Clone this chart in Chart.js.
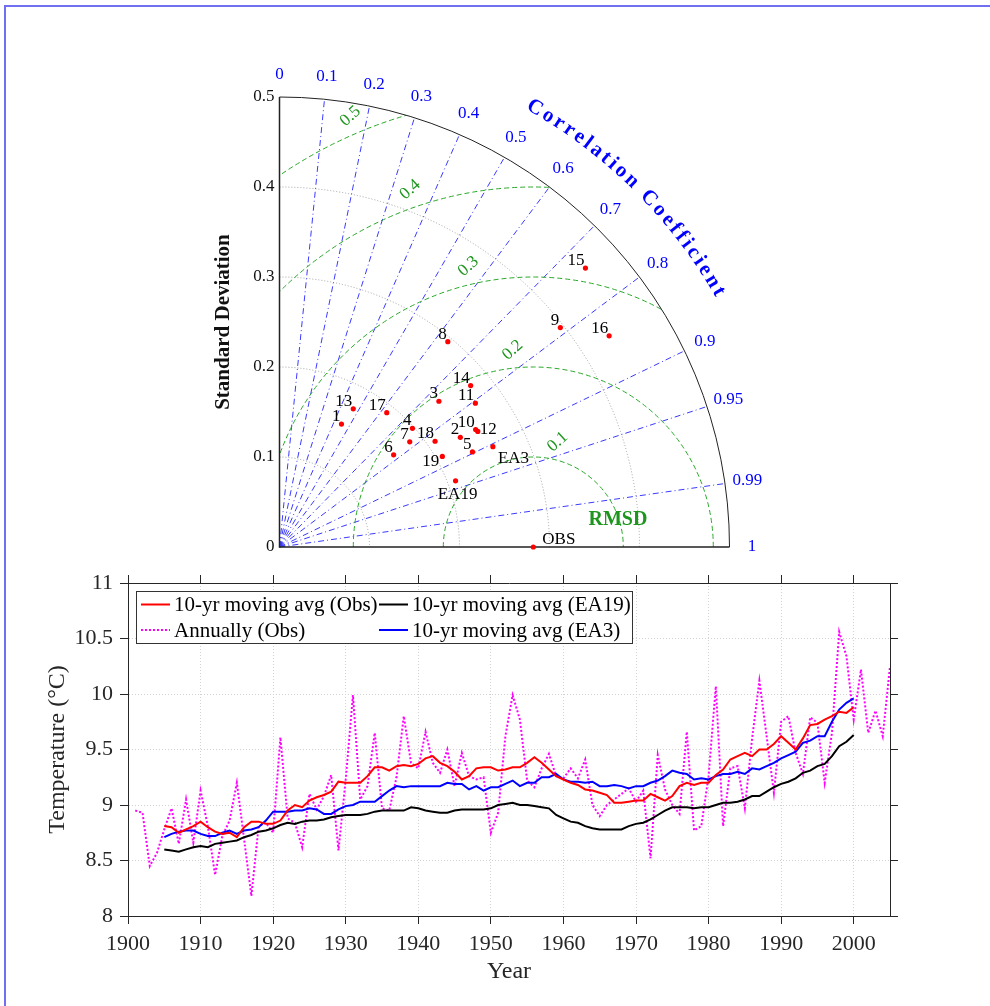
<!DOCTYPE html>
<html>
<head>
<meta charset="utf-8">
<script src="https://cdn.jsdelivr.net/npm/chart.js@4.4.0/dist/chart.umd.min.js"></script>
<style>
html, body { margin: 0; padding: 0; background: #fff; }
#page { position: relative; width: 990px; height: 1006px; overflow: hidden; }
#frame { position: absolute; left: 4px; top: 5px; width: 1000px; height: 1010px;
  border-top: 2px solid #6f6ff0; border-left: 2px solid #6f6ff0; }
#taylor { position: absolute; left: 0; top: 0; }
#series { position: absolute; left: 0; top: 560px; }
</style>
</head>
<body>
<div id="page">
  <div id="frame"></div>
  <canvas id="taylor" width="990" height="570"></canvas>
  <canvas id="series" width="990" height="446"></canvas>
</div>
<script>
// ---- Taylor diagram data ----
var models   = ['1', '2', '3', '4', '5', '6', '7', '8', '9', '10', '11', '12', '13', '14', '15', '16', '17', '18', '19', 'EA3', 'EA19', 'OBS'];
var stdDev   = [0.153, 0.235, 0.240, 0.198, 0.239, 0.163, 0.186, 0.295, 0.396, 0.254, 0.270, 0.255, 0.174, 0.278, 0.460, 0.435, 0.191, 0.209, 0.207, 0.262, 0.209, 0.282];
var corrCoef = [0.450, 0.855, 0.738, 0.746, 0.897, 0.778, 0.778, 0.634, 0.788, 0.858, 0.806, 0.864, 0.471, 0.764, 0.739, 0.842, 0.624, 0.827, 0.874, 0.905, 0.936, 1.0];
var refStd = 0.282;
var stdTicks = [0, 0.1, 0.2, 0.3, 0.4, 0.5];
var corrTicks = [0, 0.1, 0.2, 0.3, 0.4, 0.5, 0.6, 0.7, 0.8, 0.9, 0.95, 0.99, 1];
var rmsdLevels = [0.1, 0.2, 0.3, 0.4, 0.5];

// ---- temperature series ----
var annualStart = 1901;
var obsAnnual = [
  8.95, 8.93, 8.45, 8.57, 8.78, 8.97, 8.65, 9.05, 8.66, 9.13,
  8.81, 8.37, 8.72, 8.86, 9.20, 8.69, 8.18, 8.81, 8.84, 8.75,
  9.61, 8.88, 8.84, 8.62, 9.10, 8.96, 9.08, 9.27, 8.59, 9.23,
  9.99, 9.05, 9.17, 9.65, 8.97, 8.95, 9.25, 9.80, 9.38, 9.33,
  9.66, 9.38, 9.29, 9.50, 9.17, 9.47, 9.26, 9.23, 9.25, 8.75,
  8.93, 9.62, 9.99, 9.77, 9.22, 9.16, 9.33, 9.46, 9.26, 9.24,
  9.33, 9.24, 9.41, 9.00, 8.90, 9.00, 9.05, 9.10, 9.15, 9.03,
  9.13, 8.52, 9.45, 9.14, 9.00, 8.92, 9.66, 8.77, 8.81, 9.26,
  10.07, 8.81, 9.33, 9.35, 8.97, 9.60, 10.12, 9.62, 9.11, 9.75,
  9.80, 9.47, 9.28, 9.79, 9.74, 9.20, 9.65, 10.56, 10.34, 9.77,
  10.22, 9.65, 9.85, 9.62, 10.25
];
var maStart = 1905;
var obsMA = [
  8.81, 8.80, 8.75, 8.78, 8.81, 8.85,
  8.80, 8.76, 8.74, 8.75, 8.71, 8.80, 8.85, 8.85, 8.83, 8.83,
  8.86, 8.95, 9.00, 8.98, 9.04, 9.07, 9.09, 9.12, 9.21, 9.20,
  9.20, 9.20, 9.26, 9.34, 9.34, 9.31, 9.35, 9.36, 9.35, 9.37,
  9.42, 9.44, 9.38, 9.35, 9.30, 9.23, 9.26, 9.33, 9.34, 9.34,
  9.31, 9.32, 9.34, 9.34, 9.38, 9.43, 9.38, 9.32, 9.26, 9.23,
  9.20, 9.18, 9.14, 9.13, 9.11, 9.09, 9.02, 9.02, 9.03, 9.04,
  9.04, 9.10, 9.07, 9.04, 9.08, 9.17, 9.20, 9.18, 9.20, 9.20,
  9.27, 9.32, 9.41, 9.44, 9.47, 9.44, 9.50, 9.50, 9.55, 9.62,
  9.56, 9.50, 9.60, 9.72, 9.73, 9.77, 9.80, 9.84, 9.83, 9.88
];
var ea19MA = [
  8.60, 8.59, 8.58, 8.60, 8.62, 8.63,
  8.62, 8.65, 8.66, 8.67, 8.68, 8.71, 8.73, 8.76, 8.77, 8.79,
  8.82, 8.84, 8.83, 8.85, 8.86, 8.86, 8.87, 8.89, 8.90, 8.91,
  8.91, 8.91, 8.92, 8.94, 8.95, 8.95, 8.95, 8.95, 8.98, 8.97,
  8.95, 8.94, 8.93, 8.93, 8.95, 8.96, 8.96, 8.96, 8.96, 8.97,
  9.00, 9.01, 9.02, 9.00, 9.00, 8.99, 8.98, 8.97, 8.91, 8.88,
  8.85, 8.84, 8.81, 8.79, 8.78, 8.78, 8.78, 8.78, 8.81, 8.83,
  8.84, 8.87, 8.91, 8.95, 8.98, 8.98, 8.98, 8.97, 8.98, 8.98,
  9.00, 9.02, 9.02, 9.03, 9.05, 9.08, 9.08, 9.12, 9.16, 9.19,
  9.21, 9.24, 9.29, 9.31, 9.35, 9.37, 9.44, 9.53, 9.57, 9.63
];
var ea3MA = [
  8.71, 8.74, 8.76, 8.77, 8.77, 8.74,
  8.72, 8.72, 8.75, 8.77, 8.74, 8.77, 8.78, 8.80, 8.86, 8.94,
  8.94, 8.94, 8.95, 8.95, 8.97, 8.96, 8.92, 8.92, 8.96, 8.99,
  9.00, 9.03, 9.03, 9.03, 9.08, 9.13, 9.17, 9.16, 9.17, 9.17,
  9.17, 9.17, 9.17, 9.20, 9.19, 9.19, 9.14, 9.17, 9.13, 9.16,
  9.16, 9.19, 9.22, 9.17, 9.20, 9.20, 9.25, 9.25, 9.28, 9.23,
  9.21, 9.21, 9.20, 9.21, 9.17, 9.17, 9.18, 9.17, 9.15, 9.17,
  9.17, 9.20, 9.22, 9.26, 9.31, 9.29, 9.28, 9.23, 9.24, 9.23,
  9.26, 9.28, 9.28, 9.30, 9.28, 9.33, 9.32, 9.35, 9.38, 9.42,
  9.45, 9.48, 9.56, 9.58, 9.62, 9.62, 9.75, 9.86, 9.92, 9.96
];
var seriesLabels = ['10-yr moving avg (Obs)', 'Annually (Obs)', '10-yr moving avg (EA19)', '10-yr moving avg (EA3)'];

var serif = "'Liberation Serif', 'Times New Roman', serif";
var axisColor = '#262626';
Chart.defaults.font.family = serif;

function toPoints(start, values) {
  return values.map(function (v, i) { return { x: start + i, y: v }; });
}

// label placement next to each Taylor point: [align, dx, dy] (alphabetic baseline)
var labelPlace = {
  '12': ['left', 2, 3],
  '19': ['right', -3, 10],
  'EA3': ['left', 5, 16],
  'EA19': ['center', 2, 18],
  'OBS': ['left', 9, -3]
};
// RMSD contour label angle (deg, around the reference point)
var rmsdLabelAngle = [77, 96, 103, 109, 113];

function drawArcText(ctx, text, ox, oy, r, midDeg, span) {
  var chars = text.split('');
  var w = chars.map(function (c) { return ctx.measureText(c).width; });
  var base = 0;
  for (var i = 0; i < w.length - 1; i++) base += (w[i] + w[i + 1]) / 2;
  var gap = (span - base) / (w.length - 1);
  var theta = midDeg * Math.PI / 180 + span / 2 / r;
  for (var j = 0; j < chars.length; j++) {
    if (j > 0) theta -= ((w[j - 1] + w[j]) / 2 + gap) / r;
    ctx.save();
    ctx.translate(ox + r * Math.cos(theta), oy - r * Math.sin(theta));
    ctx.rotate(Math.PI / 2 - theta);
    ctx.fillText(chars[j], 0, 0);
    ctx.restore();
  }
}

var taylorGrid = {
  id: 'taylorGrid',
  beforeDatasetsDraw: function (chart) {
    var ctx = chart.ctx, xs = chart.scales.x, ys = chart.scales.y;
    var ox = xs.getPixelForValue(0), oy = ys.getPixelForValue(0);
    var unit = xs.getPixelForValue(1) - ox;
    var rMax = stdTicks[stdTicks.length - 1];
    ctx.save();
    // standard deviation arcs
    ctx.strokeStyle = '#a0a0a0';
    ctx.lineWidth = 1;
    ctx.setLineDash([1, 2]);
    stdTicks.forEach(function (s) {
      if (s <= 0 || s >= rMax) return;
      ctx.beginPath();
      ctx.arc(ox, oy, s * unit, -Math.PI / 2, 0);
      ctx.stroke();
    });
    // correlation rays
    ctx.strokeStyle = '#3a3aff';
    ctx.setLineDash([6, 3, 1, 3]);
    corrTicks.forEach(function (c) {
      if (c <= 0 || c >= 1) return;
      ctx.beginPath();
      ctx.moveTo(ox, oy);
      ctx.lineTo(xs.getPixelForValue(rMax * c), ys.getPixelForValue(rMax * Math.sqrt(1 - c * c)));
      ctx.stroke();
    });
    // RMSD contours, clipped to the quarter disc
    ctx.save();
    ctx.beginPath();
    ctx.moveTo(ox, oy);
    ctx.arc(ox, oy, rMax * unit, -Math.PI / 2, 0);
    ctx.closePath();
    ctx.clip();
    ctx.strokeStyle = '#2aa82a';
    ctx.setLineDash([5, 3]);
    var cx = xs.getPixelForValue(refStd);
    rmsdLevels.forEach(function (r) {
      ctx.beginPath();
      ctx.arc(cx, oy, r * unit, Math.PI, 0);
      ctx.stroke();
    });
    ctx.restore();
    // outer arc and axes
    ctx.setLineDash([]);
    ctx.strokeStyle = '#222';
    ctx.lineWidth = 1;
    ctx.beginPath();
    ctx.arc(ox, oy, rMax * unit, -Math.PI / 2, 0);
    ctx.stroke();
    ctx.lineWidth = 1.5;
    ctx.beginPath();
    ctx.moveTo(ox, ys.getPixelForValue(rMax));
    ctx.lineTo(ox, oy);
    ctx.lineTo(xs.getPixelForValue(rMax), oy);
    ctx.stroke();
    ctx.restore();
  },
  afterDatasetsDraw: function (chart) {
    var ctx = chart.ctx, xs = chart.scales.x, ys = chart.scales.y;
    var ox = xs.getPixelForValue(0), oy = ys.getPixelForValue(0);
    var unit = xs.getPixelForValue(1) - ox;
    var rMax = stdTicks[stdTicks.length - 1];
    ctx.save();
    // std tick labels
    ctx.fillStyle = '#111';
    ctx.font = '17px ' + serif;
    ctx.textAlign = 'right';
    ctx.textBaseline = 'middle';
    stdTicks.forEach(function (s) { ctx.fillText(String(s), ox - 5, ys.getPixelForValue(s)); });
    // std axis title
    ctx.save();
    ctx.font = 'bold 21px ' + serif;
    ctx.textAlign = 'center';
    ctx.translate(ox - 56, ys.getPixelForValue(rMax / 2));
    ctx.rotate(-Math.PI / 2);
    ctx.fillText('Standard Deviation', 0, 0);
    ctx.restore();
    // correlation labels
    ctx.fillStyle = '#0000ff';
    ctx.font = '17px ' + serif;
    ctx.textAlign = 'center';
    corrTicks.forEach(function (c) {
      var r = rMax * 1.05;
      ctx.fillText(String(c), xs.getPixelForValue(r * c), ys.getPixelForValue(r * Math.sqrt(1 - c * c)));
    });
    ctx.font = 'bold 21px ' + serif;
    drawArcText(ctx, 'Correlation Coefficient', ox, oy, rMax * 1.129 * unit, 45, 263);
    // RMSD labels
    ctx.fillStyle = '#1e961e';
    ctx.font = '17px ' + serif;
    rmsdLevels.forEach(function (r, i) {
      var a = rmsdLabelAngle[i] * Math.PI / 180, d = r + 0.02;
      ctx.save();
      ctx.translate(xs.getPixelForValue(refStd + d * Math.cos(a)), ys.getPixelForValue(d * Math.sin(a)));
      ctx.rotate(-42 * Math.PI / 180);
      ctx.fillText(String(r), 0, 0);
      ctx.restore();
    });
    ctx.font = 'bold 20px ' + serif;
    ctx.fillText('RMSD', xs.getPixelForValue(0.376), ys.getPixelForValue(0.03));
    // point labels
    ctx.fillStyle = '#000';
    ctx.font = '17px ' + serif;
    ctx.textBaseline = 'alphabetic';
    var pts = chart.getDatasetMeta(0).data;
    models.forEach(function (m, i) {
      var p = labelPlace[m] || ['right', -1, -3];
      ctx.textAlign = p[0];
      ctx.fillText(m, pts[i].x + p[1], pts[i].y + p[2]);
    });
    ctx.restore();
  }
};

new Chart(document.getElementById('taylor'), {
  type: 'scatter',
  data: {
    datasets: [{
      data: models.map(function (m, i) {
        return { x: stdDev[i] * corrCoef[i], y: stdDev[i] * Math.sqrt(1 - corrCoef[i] * corrCoef[i]) };
      }),
      backgroundColor: '#ff0000',
      borderWidth: 0,
      pointRadius: 2.6,
      clip: false
    }]
  },
  options: {
    responsive: false,
    animation: false,
    layout: { padding: { left: 279.5, right: 260.5, top: 97, bottom: 23 } },
    plugins: { legend: { display: false }, tooltip: { enabled: false } },
    scales: {
      x: { type: 'linear', min: 0, max: 0.5, display: false },
      y: { type: 'linear', min: 0, max: 0.5, display: false }
    }
  },
  plugins: [taylorGrid]
});

// legend drawn as a MATLAB style two-column box
var legendSlots = [[0, 0], [0, 1], [1, 0], [1, 1]];
var boxLegend = {
  id: 'boxLegend',
  afterDraw: function (chart) {
    var ctx = chart.ctx, a = chart.chartArea;
    var bx = a.left + 8, by = a.top + 8, bw = 496, bh = 52;
    var colX = [bx + 5, bx + 243], rowY = [by + 13.5, by + 39];
    ctx.save();
    ctx.fillStyle = '#fff';
    ctx.fillRect(bx, by, bw, bh);
    ctx.strokeStyle = '#333';
    ctx.lineWidth = 1;
    ctx.strokeRect(bx + 0.5, by + 0.5, bw, bh);
    ctx.font = '21px ' + serif;
    ctx.textBaseline = 'middle';
    ctx.textAlign = 'left';
    chart.data.datasets.forEach(function (ds, i) {
      var x = colX[legendSlots[i][0]], y = rowY[legendSlots[i][1]];
      ctx.strokeStyle = ds.borderColor;
      ctx.lineWidth = ds.borderWidth;
      ctx.setLineDash(ds.borderDash || []);
      ctx.beginPath();
      ctx.moveTo(x, y);
      ctx.lineTo(x + 29, y);
      ctx.stroke();
      ctx.fillStyle = '#000';
      ctx.fillText(ds.label, x + 33, y + 1);
    });
    ctx.restore();
  }
};

var tickFont = { family: serif, size: 22 };
new Chart(document.getElementById('series'), {
  type: 'line',
  data: {
    datasets: [
      { label: seriesLabels[0], data: toPoints(maStart, obsMA), borderColor: '#ff0000', borderWidth: 2, order: 0 },
      { label: seriesLabels[1], data: toPoints(annualStart, obsAnnual), borderColor: '#ff00ff', borderWidth: 2, borderDash: [2, 2], order: 3 },
      { label: seriesLabels[2], data: toPoints(maStart, ea19MA), borderColor: '#000000', borderWidth: 2, order: 2 },
      { label: seriesLabels[3], data: toPoints(maStart, ea3MA), borderColor: '#0000ff', borderWidth: 2, order: 1 }
    ]
  },
  options: {
    responsive: false,
    animation: false,
    layout: { padding: { left: 0, right: 92, top: 15, bottom: 0 } },
    elements: { point: { radius: 0 }, line: { tension: 0 } },
    plugins: { legend: { display: false }, tooltip: { enabled: false } },
    scales: {
      x: {
        type: 'linear', position: 'bottom', min: 1900, max: 2005,
        afterFit: function (s) { s.height = 90; },
        ticks: { stepSize: 10, includeBounds: false, autoSkip: false, maxRotation: 0, padding: 7,
          color: axisColor, font: tickFont, callback: function (v) { return String(v); } },
        grid: { color: '#d2d2d2', tickLength: 8, tickColor: axisColor },
        border: { color: axisColor, width: 1, dash: [1, 2] },
        title: { display: true, text: 'Year', color: axisColor, font: { family: serif, size: 24 },
          padding: { top: 0, bottom: 20 } }
      },
      y: {
        type: 'linear', position: 'left', min: 8, max: 11,
        afterFit: function (s) { s.width = 128; },
        ticks: { stepSize: 0.5, padding: 7, color: axisColor, font: tickFont,
          callback: function (v) { return String(v); } },
        grid: { color: '#d2d2d2', tickLength: 8, tickColor: axisColor },
        border: { color: axisColor, width: 1, dash: [1, 2] },
        title: { display: true, text: 'Temperature (°C)', color: axisColor, font: { family: serif, size: 24 },
          padding: { top: 43, bottom: 0 } }
      },
      x2: {
        type: 'linear', position: 'top', min: 1900, max: 2005,
        afterFit: function (s) { s.height = 8; },
        ticks: { stepSize: 10, includeBounds: false, display: false },
        grid: { drawOnChartArea: false, tickLength: 8, tickColor: axisColor },
        border: { color: axisColor, width: 1 }
      },
      y2: {
        type: 'linear', position: 'right', min: 8, max: 11,
        afterFit: function (s) { s.width = 8; },
        ticks: { stepSize: 0.5, display: false },
        grid: { drawOnChartArea: false, tickLength: 8, tickColor: axisColor },
        border: { color: axisColor, width: 1 }
      }
    }
  },
  plugins: [boxLegend]
});
</script>
</body>
</html>
